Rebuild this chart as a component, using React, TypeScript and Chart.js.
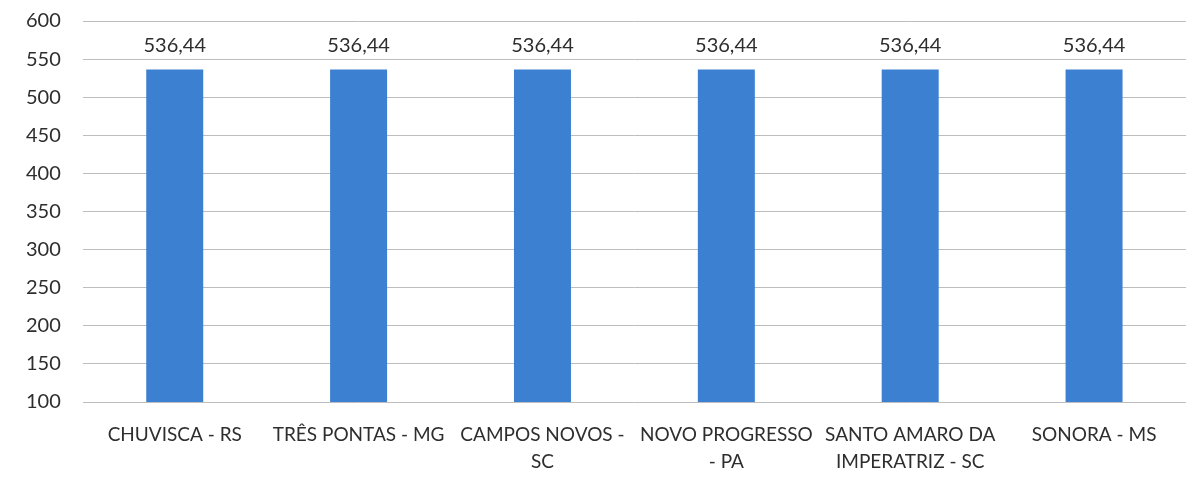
import React, { useEffect, useRef } from "react";
import { Chart, registerables } from "chart.js";

Chart.register(...registerables);

const categories: (string | string[])[] = [
  "CHUVISCA - RS",
  "TRÊS PONTAS - MG",
  ["CAMPOS NOVOS -", "SC"],
  ["NOVO PROGRESSO", "- PA"],
  ["SANTO AMARO DA", "IMPERATRIZ - SC"],
  "SONORA - MS",
];
const values: number[] = [536.44, 536.44, 536.44, 536.44, 536.44, 536.44];
const valueLabels: string[] = ["536,44", "536,44", "536,44", "536,44", "536,44", "536,44"];

const FONT = "Lato, 'Open Sans', sans-serif";

const dataLabelPlugin = {
  id: "dataLabels",
  afterDatasetsDraw(chart: any) {
    const ctx = chart.ctx;
    const meta = chart.getDatasetMeta(0);
    ctx.save();
    ctx.font = `20px ${FONT}`;
    ctx.fillStyle = "#2e2e2e";
    ctx.textAlign = "center";
    ctx.textBaseline = "middle";
    meta.data.forEach((bar: any, i: number) => {
      ctx.fillText(valueLabels[i], bar.x, bar.y - 24);
    });
    ctx.restore();
  },
};

export default function App() {
  const ref = useRef<HTMLCanvasElement | null>(null);
  useEffect(() => {
    document.body.style.margin = "0";
    const chart = new Chart(ref.current!, {
      type: "bar",
      data: {
        labels: categories,
        datasets: [
          {
            data: values,
            backgroundColor: "#3c80d2",
            categoryPercentage: 1,
            barPercentage: 0.31,
          },
        ],
      },
      options: {
        animation: false,
        responsive: false,
        layout: { padding: { top: 21, left: 4, right: 11, bottom: 10 } },
        plugins: { legend: { display: false }, tooltip: { enabled: false } },
        scales: {
          x: {
            grid: { display: false, drawTicks: false },
            border: { display: false },
            afterFit: (s: any) => {
              s.paddingLeft = 0;
              s.paddingRight = 0;
              s.height = 74;
            },
            ticks: {
              padding: 20,
              maxRotation: 0,
              autoSkip: false,
              color: "#2e2e2e",
              font: { family: FONT, size: 19, lineHeight: 1.4 },
            },
          },
          y: {
            min: 100,
            max: 600,
            grid: { color: "#bdbdbd", drawTicks: false, lineWidth: 1 },
            border: { display: false },
            afterFit: (s: any) => {
              s.paddingTop = 0;
              s.paddingBottom = 0;
            },
            ticks: {
              stepSize: 50,
              padding: 22,
              color: "#2e2e2e",
              font: { family: FONT, size: 20 },
            },
          },
        },
      },
      plugins: [dataLabelPlugin],
    });
    return () => chart.destroy();
  }, []);
  return <canvas ref={ref} width={1197} height={486} style={{ display: "block" }} />;
}
